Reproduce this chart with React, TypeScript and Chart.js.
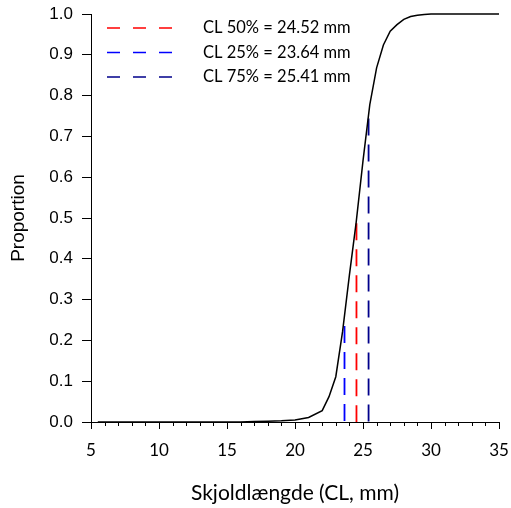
import React, { useEffect, useRef } from "react";
import { Chart, registerables } from "chart.js";

Chart.register(...registerables);

// Carapace length (mm) and fitted proportion mature
const sizes = [5.5, 6, 7, 8, 9, 10, 11, 12, 13, 14, 15, 16, 17, 18, 19, 20, 21, 22, 22.5, 23, 23.5, 24, 24.5, 25, 25.5, 26, 26.5, 27, 27.5, 28, 28.5, 29, 29.5, 30, 31, 32, 33, 34, 35];
const proportions = [0, 0, 0, 0, 0, 0, 0, 0, 0, 0, 0, 0, 0.001, 0.002, 0.003, 0.005, 0.011, 0.028, 0.062, 0.111, 0.222, 0.36, 0.49, 0.64, 0.778, 0.868, 0.924, 0.958, 0.974, 0.987, 0.994, 0.997, 0.999, 1, 1, 1, 1, 1, 1];

// Reference lengths
const clNames = ["CL 50%", "CL 25%", "CL 75%"];
const clValues = [24.52, 23.64, 25.41];
const clTops = [0.487, 0.235, 0.744];
const clColors = ["#FF0000", "#0000FF", "#00008B"];

const xTicks = [5, 10, 15, 20, 25, 30, 35];
const yTicks = [0, 0.1, 0.2, 0.3, 0.4, 0.5, 0.6, 0.7, 0.8, 0.9, 1.0];

const CAL = "Lato, 'Open Sans', sans-serif";
const ARIAL = "'Liberation Sans', Arial, sans-serif";

const extrasPlugin = {
  id: "extras",
  afterDraw(chart: any) {
    const ctx = chart.ctx;
    const xs = chart.scales.x;
    const area = chart.chartArea;
    ctx.save();
    // minor ticks on x axis
    ctx.strokeStyle = "#000";
    ctx.lineWidth = 1;
    for (let v = xs.min; v <= xs.max; v += 1) {
      if (xTicks.includes(v)) continue;
      const px = Math.round(xs.getPixelForValue(v)) + 0.5;
      ctx.beginPath();
      ctx.moveTo(px, area.bottom);
      ctx.lineTo(px, area.bottom + 4);
      ctx.stroke();
    }
    // legend
    const lx = 107;
    const ly0 = 28;
    const dy = 24.5;
    ctx.font = "16.5px " + CAL;
    ctx.textBaseline = "middle";
    ctx.textAlign = "left";
    clNames.forEach((name, i) => {
      const y = ly0 + i * dy;
      ctx.strokeStyle = clColors[i];
      ctx.lineWidth = 1.5;
      ctx.setLineDash([13, 13]);
      ctx.beginPath();
      ctx.moveTo(lx, y);
      ctx.lineTo(lx + 68, y);
      ctx.stroke();
      ctx.setLineDash([]);
      ctx.fillStyle = "#000";
      ctx.fillText(`${name} = ${clValues[i].toFixed(2)} mm`, 203, y);
    });
    ctx.restore();
  },
};

export default function App() {
  const ref = useRef<HTMLCanvasElement>(null);
  useEffect(() => {
    if (!ref.current) return;
    Chart.defaults.color = "#000";
    const datasets: any[] = [
      {
        data: sizes.map((s, i) => ({ x: s, y: proportions[i] })),
        borderColor: "#000",
        borderWidth: 1.5,
        pointRadius: 0,
        tension: 0,
        clip: false,
        order: 0,
      },
      ...clValues.map((v, i) => ({
        data: [
          { x: v, y: clTops[i] },
          { x: v, y: 0 },
        ],
        borderColor: clColors[i],
        borderWidth: 1.8,
        borderDash: [17, 9],
        pointRadius: 0,
        order: 1,
      })),
    ];
    const chart = new Chart(ref.current, {
      type: "scatter",
      data: { datasets },
      options: {
        animation: false,
        responsive: false,
        showLine: true,
        layout: { padding: { top: 14, right: 12, left: 0, bottom: 0 } },
        plugins: { legend: { display: false }, tooltip: { enabled: false } },
        scales: {
          x: {
            type: "linear",
            min: 5,
            max: 35,
            afterFit: (s: any) => {
              s.height = 86;
              s.paddingLeft = 0;
              s.paddingRight = 0;
            },
            afterBuildTicks: (s: any) => {
              s.ticks = xTicks.map((v) => ({ value: v }));
            },
            ticks: {
              font: { family: CAL, size: 17 },
              padding: 11,
              maxRotation: 0,
              color: "#000",
            },
            grid: { drawOnChartArea: false, color: "#000", tickLength: 7, tickWidth: 1 },
            border: { color: "#000", width: 1 },
            title: {
              display: true,
              text: "Skjoldlængde (CL, mm)",
              font: { family: CAL, size: 21 },
              padding: { top: 0, bottom: 2 },
              color: "#000",
            },
          },
          y: {
            type: "linear",
            min: 0,
            max: 1,
            afterFit: (s: any) => {
              s.width = 91;
              s.paddingTop = 0;
              s.paddingBottom = 0;
            },
            afterBuildTicks: (s: any) => {
              s.ticks = yTicks.map((v) => ({ value: v }));
            },
            ticks: {
              font: { family: ARIAL, size: 17 },
              padding: 9,
              color: "#000",
              callback: (v: any) => Number(v).toFixed(1),
            },
            grid: { drawOnChartArea: false, color: "#000", tickLength: 9, tickWidth: 1 },
            border: { color: "#000", width: 1 },
            title: {
              display: true,
              text: "Proportion",
              font: { family: ARIAL, size: 19 },
              padding: { top: 7, bottom: 0 },
              color: "#000",
            },
          },
        },
      } as any,
      plugins: [extrasPlugin],
    });
    return () => chart.destroy();
  }, []);
  return (
    <div style={{ position: "absolute", left: 0, top: 0, width: 511, height: 508, background: "#fff" }}>
      <canvas ref={ref} width={511} height={508} style={{ width: 511, height: 508, display: "block" }} />
    </div>
  );
}
